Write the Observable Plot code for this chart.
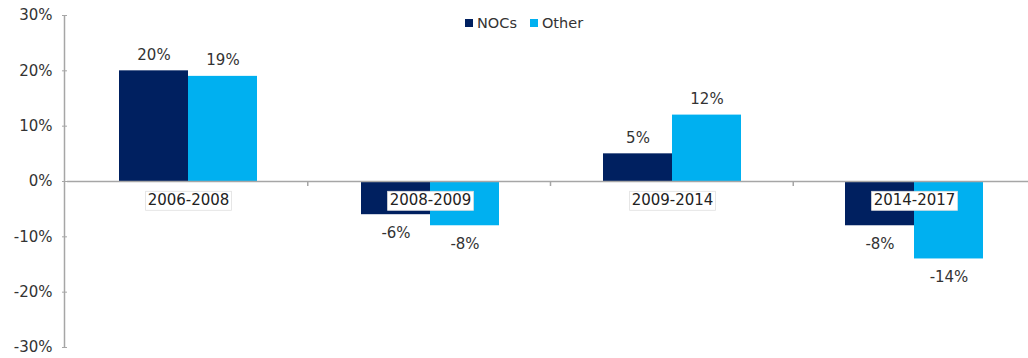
<!DOCTYPE html>
<html>
<head>
<meta charset="utf-8">
<script src="https://cdn.jsdelivr.net/npm/d3@7"></script>
<script src="https://cdn.jsdelivr.net/npm/@observablehq/plot@0.6"></script>
<style>
  body { margin: 0; background: #fff; font-family: "DejaVu Sans", Verdana, sans-serif; }
  #wrap { position: relative; width: 1028px; height: 358px; }
  #legend { position: absolute; top: 15px; left: 465px; display: flex; align-items: center; font-size: 14.5px; line-height: 16px; color: #333; }
  #legend .item { display: flex; align-items: center; }
  #legend .item + .item { margin-left: 13px; }
  #legend .sw { width: 8px; height: 8px; margin-right: 4px; }
</style>
</head>
<body>
<div id="wrap"><div id="legend"></div></div>
<script>
const categories = ["2006-2008", "2008-2009", "2009-2014", "2014-2017"];
const series = ["NOCs", "Other"];
const nocsValues = [20, -6, 5, -8];
const otherValues = [19, -8, 12, -14];
const yTicks = [-30, -20, -10, 0, 10, 20, 30];
const seriesColors = ["#002060", "#00B0F0"];

const rows = [];
categories.forEach((c, i) => {
  rows.push({cat: c, series: series[0], value: nocsValues[i]});
  rows.push({cat: c, series: series[1], value: otherValues[i]});
});

const textColor = "#333";
const lineColor = "#a6a6a6";

const chart = Plot.plot({
  width: 1028,
  height: 358,
  marginLeft: 65,
  marginRight: -8,
  marginTop: 15,
  marginBottom: 11,
  style: { fontFamily: "'DejaVu Sans', Verdana, sans-serif", fontSize: "15px", color: textColor, background: "#fff", overflow: "visible" },
  fx: { domain: categories, padding: 0, axis: null, label: null },
  x: { domain: series, paddingInner: 0, paddingOuter: 0.747, axis: null },
  y: { domain: [-30, 30] },
  color: { domain: series, range: seriesColors },
  marks: [
    Plot.axisY({ ticks: yTicks, tickFormat: d => d + "%", tickSize: 5, tickPadding: 10, stroke: lineColor, fill: textColor, label: null, fontSize: 15 }),
    Plot.barY(rows, { fx: "cat", x: "series", y: "value", fill: "series" }),
    Plot.ruleY([0], { stroke: lineColor, strokeWidth: 1.5 }),
    Plot.text(rows.filter(d => d.value >= 0), { fx: "cat", x: "series", y: "value", text: d => d.value + "%", dy: -16, fill: textColor, fontSize: 15 }),
    Plot.text(rows.filter(d => d.value < 0), { fx: "cat", x: "series", y: "value", text: d => d.value + "%", dy: 18, fill: textColor, fontSize: 15 }),
    Plot.text(categories, { fx: d => d, y: () => 0, text: d => d, dy: 19, fill: "#222", fontSize: 15 })
  ]
});

document.getElementById("wrap").appendChild(chart);

// legend
const legend = d3.select("#legend");
series.forEach((s, i) => {
  const item = legend.append("div").attr("class", "item");
  item.append("div").attr("class", "sw").style("background", seriesColors[i]);
  item.append("span").text(s);
});

// axis line and category separators, placed with the plot's own scales
const svg = d3.select(chart);
const fxs = chart.scale("fx");
const ys = chart.scale("y");
const band = d3.scaleBand().domain(fxs.domain).range(fxs.range).padding(0);
const yScale = d3.scaleLinear().domain(ys.domain).range(ys.range);
const axisX = band.range()[0] - 0.5;
svg.append("line")
  .attr("x1", axisX).attr("x2", axisX)
  .attr("y1", yScale(30)).attr("y2", yScale(-30))
  .attr("stroke", lineColor).attr("stroke-width", 1.5);
categories.slice(1).forEach(c => {
  const x = band(c);
  svg.append("line")
    .attr("x1", x).attr("x2", x)
    .attr("y1", yScale(0)).attr("y2", yScale(0) + 5)
    .attr("stroke", lineColor).attr("stroke-width", 1.5);
});

// white boxes behind category labels
svg.selectAll("text").filter(function () { return categories.includes(this.textContent); }).each(function () {
  const bb = this.getBBox();
  const r = document.createElementNS("http://www.w3.org/2000/svg", "rect");
  r.setAttribute("x", bb.x - 2);
  r.setAttribute("y", bb.y);
  r.setAttribute("width", bb.width + 4);
  r.setAttribute("height", bb.height + 1);
  r.setAttribute("fill", "#fff");
  r.setAttribute("stroke", "#e0e0e0");
  r.setAttribute("stroke-width", 0.8);
  const t = this.getAttribute("transform");
  if (t) r.setAttribute("transform", t);
  this.parentNode.insertBefore(r, this);
});
</script>
</body>
</html>
